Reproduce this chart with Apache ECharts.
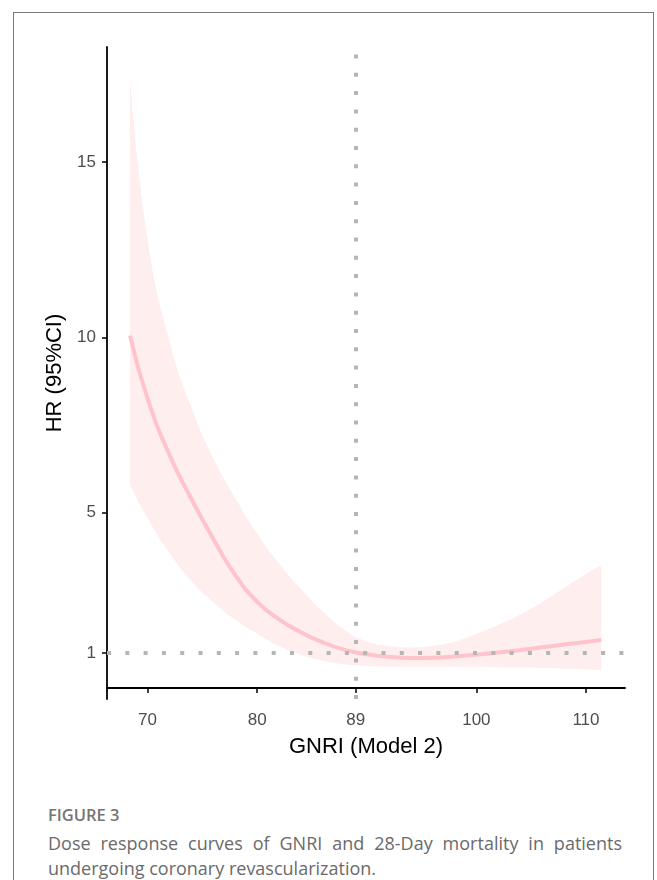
<!DOCTYPE html>
<html>
<head>
<meta charset="utf-8">
<script src="https://cdn.jsdelivr.net/npm/echarts@6/dist/echarts.min.js"></script>
<style>
  html, body { margin: 0; padding: 0; background: #fff; }
  #frame { position: absolute; left: 13px; top: 12px; width: 641px; height: 900px;
           border: 1px solid #7a7a7a; border-bottom: none; box-sizing: border-box; }
  #chart { position: absolute; left: 0; top: 0; width: 657px; height: 790px; }
  #caption { position: absolute; left: 48px; top: 804px; width: 574px;
             font-family: "Open Sans", sans-serif; color: #6a6a6a; }
  #caption .fig { font-size: 16.5px; font-weight: 600; line-height: 22px; color: #747474; }
  #caption .txt { font-size: 18px; line-height: 25px; margin-top: 5px; text-align: justify; }
</style>
</head>
<body>
<div id="frame"></div>
<div id="chart"></div>
<div id="caption">
  <div class="fig">FIGURE 3</div>
  <div class="txt">Dose response curves of GNRI and 28-Day mortality in patients undergoing coronary revascularization.</div>
</div>
<script>
// GNRI values where the spline was read
var gnri = [68.4, 70, 72, 74, 76, 78, 80, 82, 84, 86, 88, 90, 92, 94, 96, 98, 100, 102, 104, 106, 108, 110, 111.4];
// hazard ratio and 95% CI bounds
var hr = [10.05, 8.25, 6.65, 5.39, 4.25, 3.22, 2.46, 1.96, 1.59, 1.30, 1.09, 0.965, 0.89, 0.856, 0.864, 0.90, 0.951, 1.014, 1.085, 1.162, 1.239, 1.315, 1.368];
var ciUpper = [17.4, 12.8, 9.9, 8.0, 6.55, 5.42, 4.4, 3.55, 2.82, 2.18, 1.65, 1.33, 1.2, 1.16, 1.2, 1.32, 1.55, 1.8, 2.1, 2.45, 2.85, 3.25, 3.5];
var ciLower = [5.79, 4.85, 3.85, 3.05, 2.45, 1.95, 1.55, 1.2, 0.95, 0.78, 0.68, 0.63, 0.61, 0.61, 0.61, 0.61, 0.61, 0.6, 0.59, 0.57, 0.55, 0.53, 0.51];
var xTicks = [70, 80, 89, 100, 110];
var yTicks = [1, 5, 10, 15];
var cutoff = 89;
var refHR = 1;

var chart = echarts.init(document.getElementById('chart'), null, { renderer: 'canvas' });

// band rows are [value, gnri] so the stack runs on the y dimension
var lowerData = gnri.map(function (x, i) { return [ciLower[i], x]; });
var bandData = gnri.map(function (x, i) { return [ciUpper[i] - ciLower[i], x]; });
var hrData = gnri.map(function (x, i) { return [x, hr[i]]; });

var dotted = { color: '#b5b5b5', width: 4, type: [4, 14.3], cap: 'butt' };

var option = {
  animation: false,
  grid: { left: 107, right: 32, top: 47, bottom: 91 },
  xAxis: {
    type: 'value',
    min: 66.3,
    max: 113.56,
    name: 'GNRI (Model 2)',
    nameLocation: 'middle',
    nameGap: 37,
    nameTextStyle: { fontFamily: 'Liberation Sans', fontSize: 22, color: '#000' },
    splitLine: { show: false },
    axisLine: { lineStyle: { color: '#000', width: 1.8 } },
    axisTick: { customValues: xTicks, length: 5, lineStyle: { color: '#000', width: 1.5 } },
    axisLabel: { customValues: xTicks, margin: 13, fontFamily: 'Liberation Sans', fontSize: 17, color: '#4d4d4d' }
  },
  yAxis: {
    type: 'value',
    min: -0.312,
    max: 18.28,
    name: 'HR (95%CI)',
    nameLocation: 'middle',
    nameGap: 35,
    nameTextStyle: { fontFamily: 'Liberation Sans', fontSize: 22, color: '#000' },
    splitLine: { show: false },
    axisLine: { show: true, lineStyle: { color: '#000', width: 1.8 } },
    axisTick: { show: true, customValues: yTicks, length: 5, lineStyle: { color: '#000', width: 1.5 } },
    axisLabel: { customValues: yTicks, margin: 11, fontFamily: 'Liberation Sans', fontSize: 17, color: '#4d4d4d' }
  },
  series: [
    {
      name: 'lower',
      type: 'line',
      data: lowerData,
      encode: { x: 1, y: 0 },
      stack: 'ci',
      smooth: true,
      symbol: 'none',
      lineStyle: { opacity: 0 },
      silent: true
    },
    {
      name: 'band',
      type: 'line',
      data: bandData,
      encode: { x: 1, y: 0 },
      stack: 'ci',
      smooth: true,
      symbol: 'none',
      lineStyle: { opacity: 0 },
      areaStyle: { color: '#feeeee', opacity: 1 },
      silent: true
    },
    {
      name: 'HR',
      type: 'line',
      data: hrData,
      smooth: true,
      symbol: 'none',
      lineStyle: { color: '#ffc3cc', width: 4 },
      z: 3,
      markLine: {
        silent: true,
        symbol: 'none',
        label: { show: false },
        lineStyle: dotted,
        data: [{ xAxis: cutoff }, { yAxis: refHR }]
      }
    }
  ]
};
chart.setOption(option);
</script>
</body>
</html>
